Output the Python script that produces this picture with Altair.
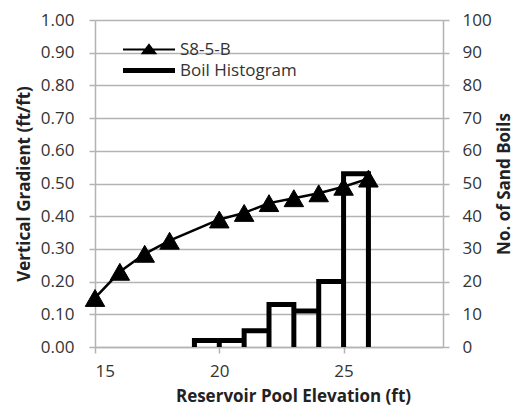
import altair as alt
import pandas as pd

# Piezometer S8-5-B: vertical gradient (ft/ft) versus reservoir pool elevation (ft)
elev = [15, 16, 17, 18, 20, 21, 22, 23, 24, 25, 26]
gradient = [0.15, 0.23, 0.285, 0.325, 0.39, 0.41, 0.44, 0.455, 0.47, 0.49, 0.515]

# Sand boil counts in 1-ft pool elevation bins
bin_lo = [19, 20, 21, 22, 23, 24, 25]
bin_hi = [20, 21, 22, 23, 24, 25, 26]
boils = [2, 2, 5, 13, 11, 20, 53]

left_ticks = [round(i * 0.1, 1) for i in range(11)]
right_ticks = list(range(0, 101, 10))
x_ticks = [15, 20, 25]

series = ["S8-5-B", "Boil Histogram"]

GRID = "#b3b3b3"
FONT = "Open Sans"
LABEL_COLOR = "#333333"

gradient_df = pd.DataFrame({"elev": elev, "gradient": gradient, "series": series[0]})

# Outline of the histogram traced as one open path: up each bin's left edge,
# across its top, back down its right edge.
path_rows = []
for lo, hi, n in zip(bin_lo, bin_hi, boils):
    for x, y in ((lo, 0), (lo, n), (hi, n), (hi, 0)):
        path_rows.append({"elev": x, "boils": y, "step": len(path_rows), "series": series[1]})
hist_df = pd.DataFrame(path_rows)

x_enc = alt.X(
    "elev:Q",
    scale=alt.Scale(domain=[15, 29], nice=False, zero=False),
    axis=alt.Axis(
        values=x_ticks,
        grid=False,
        title="Reservoir Pool Elevation (ft)",
        titleX=198,
        titleY=49,
        titleAlign="center",
        titleBaseline="middle",
        labelPadding=10,
    ),
)

# Legend keys: a thin line with a triangle for the gradient series,
# a thick bar-like stroke for the histogram outline.
legend_shape = (
    "datum.value == 'Boil Histogram' ? 'M-1,0H1' : "
    "'M-1,0H1M-0.24,0.14L0,-0.18L0.24,0.14Z'"
)
legend_width = "datum.value == 'Boil Histogram' ? 5 : 2"

color_enc = alt.Color(
    "series:N",
    scale=alt.Scale(domain=series, range=["black", "black"]),
    legend=alt.Legend(
        title=None,
        orient="none",
        legendX=28,
        legendY=21,
        padding=0,
        symbolSize=2704,
        symbolType=alt.ExprRef(legend_shape),
        symbolStrokeWidth=alt.ExprRef(legend_width),
        symbolFillColor="black",
        symbolStrokeColor="black",
        symbolOffset=17.5,
        labelOffset=22.5,
        labelFont=FONT,
        labelFontSize=17,
        labelColor=LABEL_COLOR,
        rowPadding=2,
    ),
)

hist = (
    alt.Chart(hist_df)
    .mark_line(strokeWidth=5, strokeJoin="miter", strokeCap="butt")
    .encode(
        x=x_enc,
        y=alt.Y(
            "boils:Q",
            scale=alt.Scale(domain=[0, 100], nice=False),
            axis=alt.Axis(
                orient="right",
                values=right_ticks,
                grid=False,
                title="No. of Sand Boils",
                titleAngle=270,
                titleX=61,
                titleY=163.5,
                titleAlign="center",
                titleBaseline="middle",
                labelPadding=13,
            ),
        ),
        order="step:Q",
        color=color_enc,
    )
)

grad_y = alt.Y(
    "gradient:Q",
    scale=alt.Scale(domain=[0, 1], nice=False),
    axis=alt.Axis(
        orient="left",
        values=left_ticks,
        format=".2f",
        grid=True,
        title="Vertical Gradient (ft/ft)",
        titleAngle=270,
        titleX=-71,
        titleY=163.5,
        titleAlign="center",
        titleBaseline="middle",
        labelPadding=15,
    ),
)

grad_line = (
    alt.Chart(gradient_df)
    .mark_line(strokeWidth=2.5)
    .encode(x=x_enc, y=grad_y, color=color_enc)
)

grad_pts = (
    alt.Chart(gradient_df)
    .mark_point(shape="triangle-up", filled=True, size=380, opacity=1, stroke="black", strokeWidth=1)
    .encode(x=x_enc, y=grad_y, color=alt.value("black"))
)

chart = (
    alt.layer(hist, alt.layer(grad_line, grad_pts))
    .resolve_scale(y="independent")
    .properties(
        width=348,
        height=327,
        autosize=alt.AutoSizeParams(type="none"),
        padding={"left": 95, "top": 20, "right": 70, "bottom": 59},
        background="white",
    )
    .configure_view(strokeWidth=0)
    .configure_axis(
        domainColor=GRID,
        domainWidth=1.5,
        tickColor=GRID,
        tickWidth=1.5,
        tickSize=6,
        gridColor=GRID,
        gridWidth=1.5,
        labelFont=FONT,
        labelFontSize=17,
        labelColor=LABEL_COLOR,
        titleFont=FONT,
        titleFontSize=17,
        titleFontWeight="bold",
        titleColor="#222222",
    )
)

chart.save("out.html", embed_options={"renderer": "svg", "actions": False})
